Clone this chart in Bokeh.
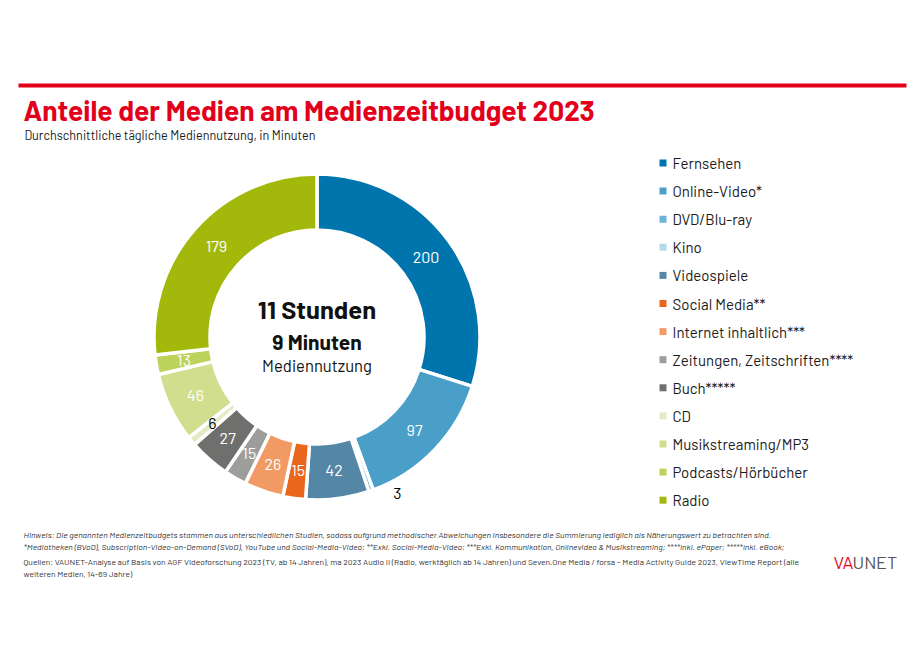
import numpy as np
from bokeh.plotting import figure
from bokeh.models import Range1d
from bokeh.core.properties import value
from bokeh.embed import file_html
from bokeh.resources import INLINE

# ---------------- data ----------------
categories = ["Fernsehen", "Online-Video*", "DVD/Blu-ray", "Kino", "Videospiele",
              "Social Media**", "Internet inhaltlich***", "Zeitungen, Zeitschriften****",
              "Buch*****", "CD", "Musikstreaming/MP3", "Podcasts/Hörbücher", "Radio"]
minutes = [200, 97, 3, 0, 42, 15, 26, 15, 27, 6, 46, 13, 179]
colors = ["#0074ad", "#4a9fc9", "#6cb4d9", "#b3d9ec", "#5487a6",
          "#e9661c", "#f19a63", "#9d9d9c", "#6f6f6e",
          "#e2ebc2", "#d0de8e", "#bcd25a", "#a2b90c"]
label_colors = ["white", "white", "black", "white", "white", "white", "white",
                "white", "white", "black", "white", "white", "white"]
label_radius = [135, 135, 176, 135, 135, 135, 135, 135, 135, 136, 135, 135, 135]
label_nudge_deg = [0, 0, 7.8, 0, 0, 0, 0, 0, 0, 0, 0, 0, 0]

title = "Anteile der Medien am Medienzeitbudget 2023"
subtitle = "Durchschnittliche tägliche Mediennutzung, in Minuten"
center_lines = ["11 Stunden", "9 Minuten", "Mediennutzung"]
notes = [
    "Hinweis: Die genannten Medienzeitbudgets stammen aus unterschiedlichen Studien, sodass aufgrund methodischer Abweichungen insbesondere die Summierung lediglich als Näherungswert zu betrachten sind.",
    "*Mediatheken (BVoD), Subscription-Video-on-Demand (SVoD), YouTube und Social-Media-Video; **Exkl. Social-Media-Video; ***Exkl. Kommunikation, Onlinevideo & Musikstreaming; ****Inkl. ePaper; *****Inkl. eBook;",
]
sources = [
    "Quellen: VAUNET-Analyse auf Basis von AGF Videoforschung 2023 (TV, ab 14 Jahren), ma 2023 Audio II (Radio, werktäglich ab 14 Jahren) und Seven.One Media / forsa – Media Activity Guide 2023, ViewTime Report (alle",
    "weiteren Medien, 14-69 Jahre)",
]

# ---------------- figure ----------------
W, H = 907, 645
p = figure(width=W, height=H, output_backend="svg", toolbar_location=None,
           x_range=Range1d(0, W), y_range=Range1d(0, H), min_border=0,
           background_fill_color="white", border_fill_color="white")
p.axis.visible = False
p.grid.visible = False
p.outline_line_color = None


def X(sx):
    return sx


def Y(sy):
    return H - sy


FONT = "Barlow"
RED = "#e2001a"
INK = "#1a1a1a"

# red rule + title
p.segment(x0=[X(18)], y0=[Y(85)], x1=[X(906)], y1=[Y(85)], line_color=RED, line_width=4)
p.text(x=[X(23)], y=[Y(109)], text=[title], text_font=value(FONT), text_font_style="bold",
       text_font_size="28px", text_color=RED, text_baseline="middle")
p.text(x=[X(24)], y=[Y(134.5)], text=[subtitle], text_font=value(FONT),
       text_font_size="12.6px", text_color=INK, text_baseline="middle")

# donut
cx, cy = X(316.5), Y(336.5)
r_out, r_in = 163, 107
total = sum(minutes)
vals = np.array(minutes, dtype=float)
cum_end = np.cumsum(vals)
cum_start = cum_end - vals
a_start = np.pi / 2 - 2 * np.pi * cum_start / total
a_end = np.pi / 2 - 2 * np.pi * cum_end / total
keep = vals > 0
p.annular_wedge(x=cx, y=cy, inner_radius=r_in, outer_radius=r_out,
                start_angle=a_end[keep], end_angle=a_start[keep],
                fill_color=[c for c, k in zip(colors, keep) if k],
                line_color="white", line_width=3.5)

mid = np.pi / 2 - 2 * np.pi * (cum_start + vals / 2) / total + np.radians(label_nudge_deg)
lr = np.array(label_radius, dtype=float)
lx = cx + lr * np.cos(mid)
ly = cy + lr * np.sin(mid)
p.text(x=lx[keep], y=ly[keep], text=[str(v) for v in np.array(minutes)[keep]],
       text_color=[c for c, k in zip(label_colors, keep) if k],
       text_font=value(FONT), text_font_size="16px",
       text_align="center", text_baseline="middle")

# center text
p.text(x=[cx], y=[Y(307.5)], text=[center_lines[0]], text_font=value(FONT), text_font_style="bold",
       text_font_size="25.5px", text_color="#111111", text_align="center", text_baseline="middle")
p.text(x=[cx], y=[Y(340.5)], text=[center_lines[1]], text_font=value(FONT), text_font_style="bold",
       text_font_size="21px", text_color="#111111", text_align="center", text_baseline="middle")
p.text(x=[cx], y=[Y(364)], text=[center_lines[2]], text_font=value(FONT),
       text_font_size="16.6px", text_color="#111111", text_align="center", text_baseline="middle")

# legend
n = len(categories)
ly_leg = np.array([Y(162.5 + i * 28.1) for i in range(n)])
p.rect(x=[X(662.5)] * n, y=ly_leg, width=7, height=7, fill_color=colors, line_color=None)
p.text(x=[X(672)] * n, y=ly_leg, text=categories, text_font=value(FONT),
       text_font_size="15px", text_color=INK, text_baseline="middle")

# footnotes
p.text(x=[X(23)] * 2, y=[Y(534), Y(546)], text=notes, text_font=value(FONT),
       text_font_style="italic", text_font_size="8.5px", text_color="#333333",
       text_baseline="middle")
p.text(x=[X(23)] * 2, y=[Y(561), Y(573)], text=sources, text_font=value(FONT),
       text_font_size="8.45px", text_color="#333333", text_baseline="middle")

# logo
p.text(x=[X(833)], y=[Y(561)], text=["VA"], text_font=value(FONT), text_font_size="18px",
       text_color=RED, text_baseline="middle")
p.text(x=[X(852)], y=[Y(561)], text=["UNET"], text_font=value(FONT), text_font_size="18px",
       text_color="#555555", text_baseline="middle")

open("out.html", "w").write(file_html(p, INLINE))
